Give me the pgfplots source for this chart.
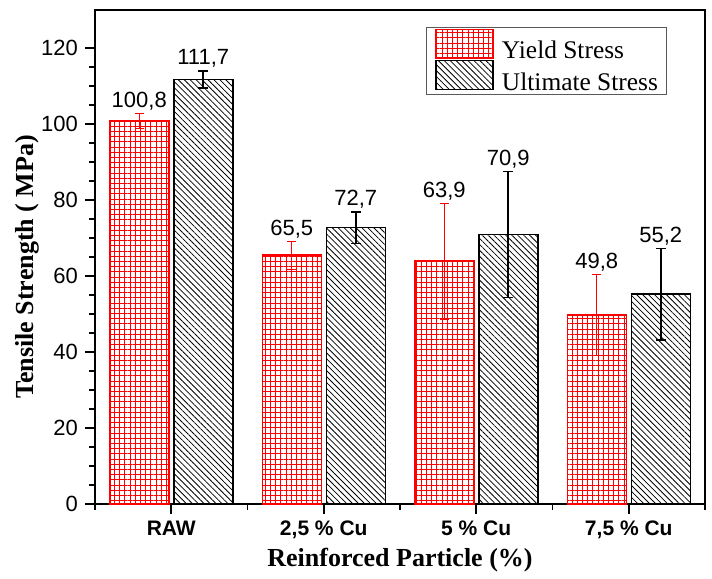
\documentclass[border=0pt]{standalone}
\usepackage{fontspec}
\setmainfont{Liberation Serif}
\setsansfont{Liberation Sans}
\usepackage{pgfplots}
\pgfplotsset{compat=1.18}
\usepackage{pgfplotstable}
\usetikzlibrary{patterns.meta}

\pgfplotstableread{
x y err lbl
1 100.8 2.0 100,8
2 65.5 3.7 65,5
3 63.9 15.3 63,9
4 49.8 10.6 49,8
}\yieldtab

\pgfplotstableread{
x y err lbl
1 111.7 2.3 111,7
2 72.7 4.2 72,7
3 70.9 16.6 70,9
4 55.2 12.0 55,2
}\ulttab

\begin{document}
\begin{tikzpicture}
\begin{axis}[
  scale only axis, width=305pt, height=247pt,
  ybar, bar width=29.5pt,
  xmin=0.5, xmax=4.5, ymin=0, ymax=130,
  xtick={1,2,3,4},
  xticklabels={RAW,{2,5 \% Cu},{5 \% Cu},{7,5 \% Cu}},
  minor xtick={0.5,1.5,2.5,3.5,4.5},
  ytick={0,20,...,120}, minor y tick num=3,
  tick align=outside, xtick pos=bottom, ytick pos=left,
  major tick length=5pt, minor tick length=2.8pt,
  axis line style={line width=1pt},
  every tick/.style={black, line width=0.8pt},
  /pgf/number format/assume math mode=true,
  yticklabel style={font=\sffamily\fontsize{11}{13}\selectfont},
  xticklabel style={font=\sffamily\bfseries\fontsize{10.5}{12}\selectfont},
  xlabel={Reinforced Particle (\%)},
  ylabel={Tensile Strength ( MPa)},
  label style={font=\bfseries\fontsize{13}{15}\selectfont},
  x label style={at={(axis description cs:0.5,-0.1134)}, anchor=center},
  y label style={at={(axis description cs:-0.1115,0.48)}, anchor=center},
  clip=false,
  legend style={at={(axis description cs:0.5426,0.9656)}, anchor=north west,
    draw=gray!70!black, line width=0.5pt, inner xsep=4.5pt, inner ysep=0.6pt,
    row sep=-1pt, column sep=4pt,
    font=\fontsize{12.7}{15}\selectfont,
    nodes={inner sep=0pt}},
  legend cell align=left,
  legend image code/.code={\draw[#1] (0pt,-3.2pt) rectangle (28.5pt,11.1pt);},
  lbl/.style={draw=none, fill=none, forget plot, nodes near coords,
    point meta=explicit symbolic,
    every node near coord/.append style={font=\sffamily\fontsize{11}{13}\selectfont, black, anchor=base, yshift=3pt}},
]
\addplot[bar shift=-16pt, draw=red, line width=0.75pt,
  pattern={Hatch[angle=0,distance=2.6pt,line width=0.4pt]}, pattern color=red,
  error bars/.cd, y dir=both, y explicit,
  error bar style={red, line width=0.5pt},
  error mark options={rotate=90, red, mark size=2.2pt, line width=0.5pt}]
  table[x=x, y=y, y error=err] {\yieldtab};
\addlegendentry{Yield Stress}
\addplot[bar shift=16pt, draw=black, line width=0.75pt,
  pattern={Lines[angle=-45,distance=2.1pt,line width=0.4pt]}, pattern color=black,
  error bars/.cd, y dir=both, y explicit,
  error bar style={black, line width=0.8pt},
  error mark options={rotate=90, black, mark size=2.5pt, line width=0.8pt}]
  table[x=x, y=y, y error=err] {\ulttab};
\addlegendentry{Ultimate Stress}
\addplot[bar shift=-16pt, lbl] table[x=x, y expr=\thisrow{y}+\thisrow{err}, meta=lbl] {\yieldtab};
\addplot[bar shift=16pt, lbl] table[x=x, y expr=\thisrow{y}+\thisrow{err}, meta=lbl] {\ulttab};
\path (rel axis cs:-0.15574,-0.1417) rectangle (rel axis cs:1.01148,1.02024);
\end{axis}
\end{tikzpicture}
\end{document}
